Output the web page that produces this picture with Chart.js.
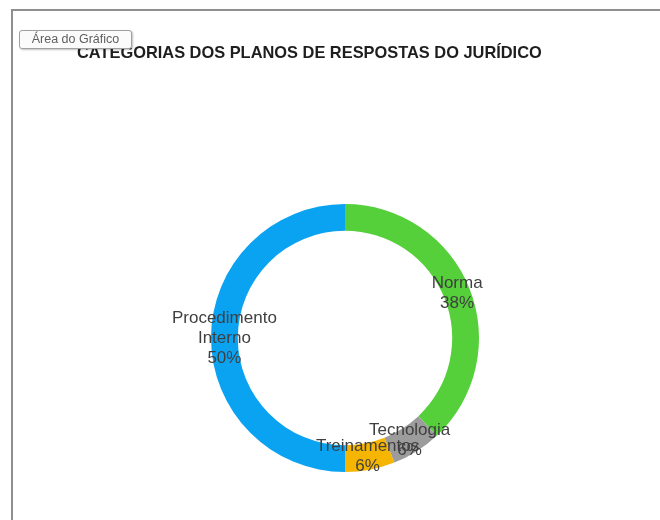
<!DOCTYPE html>
<html>
<head>
<meta charset="utf-8">
<script src="https://cdn.jsdelivr.net/npm/chart.js@4/dist/chart.umd.min.js"></script>
<style>
  html, body { margin: 0; padding: 0; background: #fff; overflow: hidden; }
  #frame { position: absolute; left: 11px; top: 9px; width: 700px; height: 560px; border: 2px solid #8f8f8f; }
  #graf { position: absolute; left: 0; top: 0; }
  #areaTip {
    position: absolute; left: 19px; top: 30px; width: 111px; height: 17px;
    border: 1px solid #a0a0a0; border-radius: 3px; background: #fbfbfb;
    box-shadow: 1px 1px 2px rgba(0,0,0,0.25);
    font: 12.5px "Liberation Sans", Arial, sans-serif; color: #606060;
    line-height: 17px; text-align: center;
  }
</style>
</head>
<body>
<div id="frame"></div>
<canvas id="graf" width="660" height="520"></canvas>
<div id="areaTip">Área do Gráfico</div>
<script>
'use strict';
let tituloGrafico = 'CATEGORIAS DOS PLANOS DE RESPOSTAS DO JURÍDICO';
let categorias = ['Norma', 'Tecnologia', 'Treinamentos', 'Procedimento Interno'];
let valores = [38, 6, 6, 50];
let cores = ['#55cf3a', '#9c9c9c', '#f6b500', '#0aa3f2'];

// titulo desenhado a esquerda, fora da area do grafico
let tituloPlugin = {
  id: 'tituloPlugin',
  afterDraw(chart) {
    let ctx = chart.ctx;
    ctx.save();
    ctx.font = 'bold 16.4px "Liberation Sans", Arial, sans-serif';
    ctx.fillStyle = '#1e1e1e';
    ctx.textBaseline = 'middle';
    ctx.textAlign = 'left';
    ctx.fillText(tituloGrafico, 77, 53);
    ctx.restore();
  }
};

// rotulos: nome da categoria + percentual, no meio de cada fatia
let rotulosPlugin = {
  id: 'rotulosPlugin',
  afterDatasetsDraw(chart) {
    let ctx = chart.ctx;
    let meta = chart.getDatasetMeta(0);
    let total = valores.reduce((a, b) => a + b, 0);
    ctx.save();
    ctx.font = '17px "Liberation Sans", Arial, sans-serif';
    ctx.fillStyle = '#3f3f3f';
    ctx.textAlign = 'center';
    ctx.textBaseline = 'middle';
    meta.data.forEach((arc, i) => {
      let pos = arc.tooltipPosition();
      let linhas = categorias[i].split(' ');
      linhas.push(Math.round(valores[i] / total * 100) + '%');
      let alt = 20;
      let y0 = pos.y - (linhas.length - 1) * alt / 2;
      linhas.forEach((t, k) => ctx.fillText(t, pos.x, y0 + k * alt));
    });
    ctx.restore();
  }
};

let ctxGraf = document.getElementById('graf').getContext('2d');
let grafico = new Chart(ctxGraf, {
  type: 'doughnut',
  data: {
    labels: categorias,
    datasets: [{
      data: valores,
      backgroundColor: cores,
      borderWidth: 0
    }]
  },
  options: {
    responsive: false,
    animation: false,
    cutout: '80%',
    layout: { padding: { left: 211, right: 181, top: 204, bottom: 48 } },
    plugins: {
      legend: { display: false },
      title: { display: false },
      tooltip: { enabled: false }
    }
  },
  plugins: [tituloPlugin, rotulosPlugin]
});
</script>
</body>
</html>
